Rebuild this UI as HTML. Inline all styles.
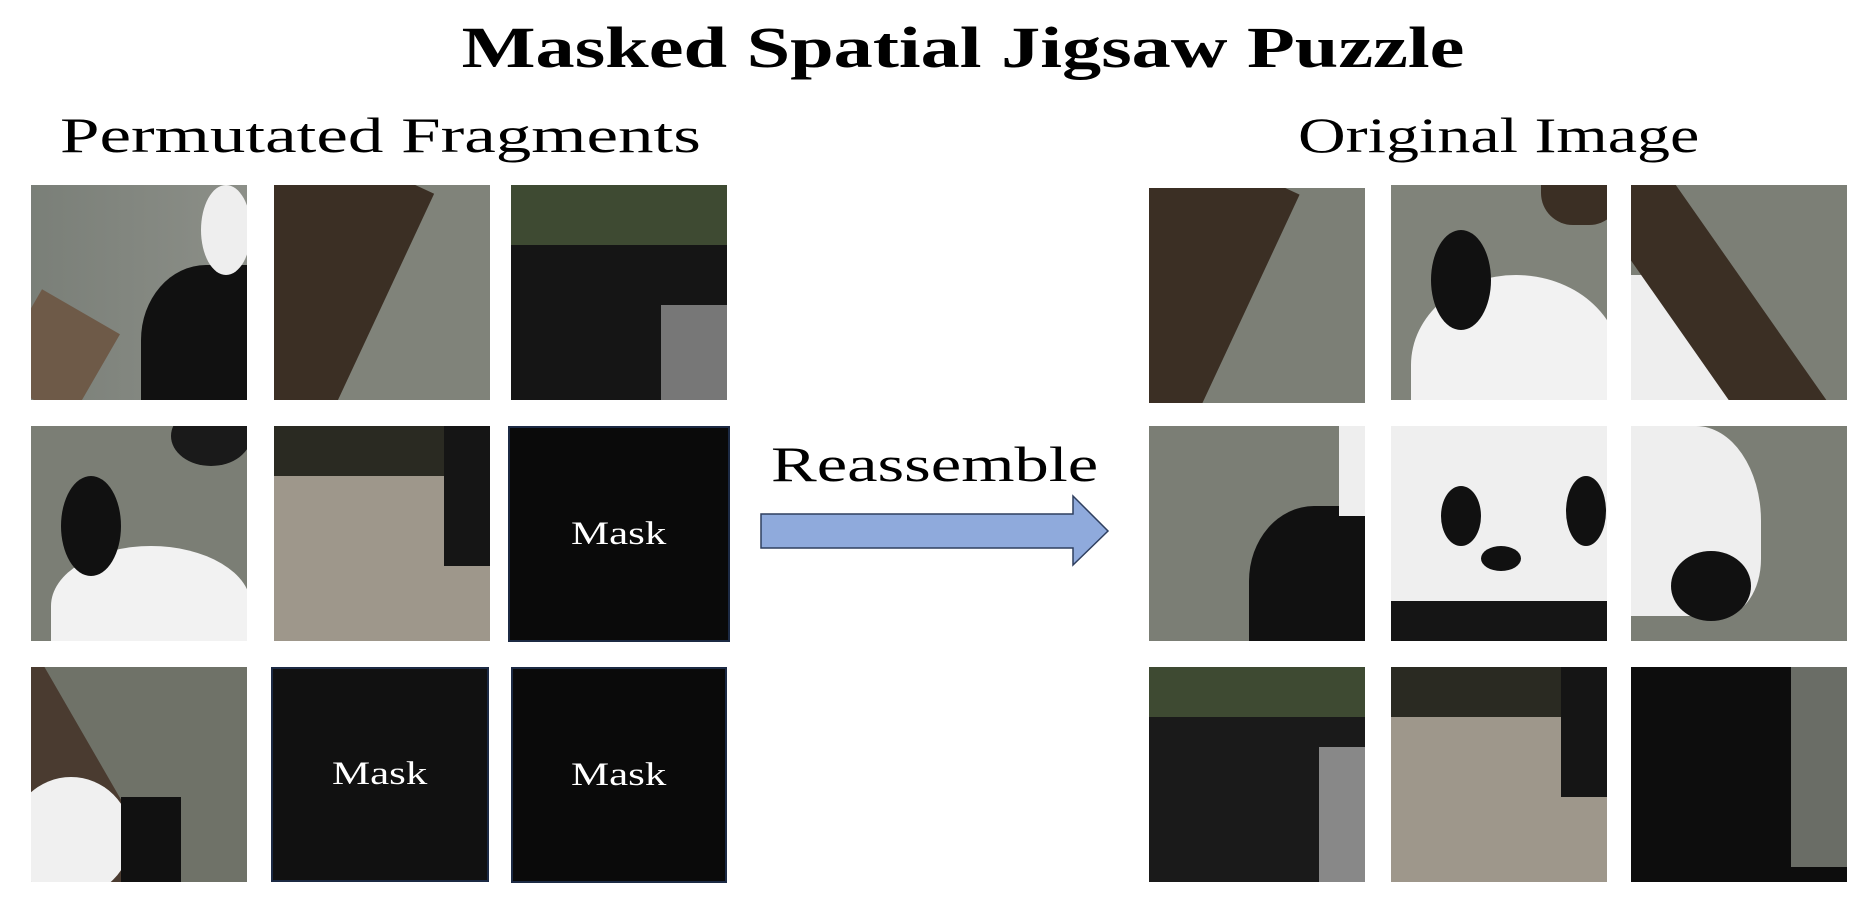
<!DOCTYPE html>
<html style="overflow:hidden"><head><meta charset="utf-8"><style>
html,body{margin:0;width:1876px;height:908px;overflow:hidden}
body{background:#fff;position:relative;font-family:"Liberation Serif",serif}
.t{position:absolute;white-space:nowrap;color:#000;transform-origin:0 0}
.tile{position:absolute;width:216px;height:215px;overflow:hidden}
.tile div{position:absolute}
.mask{background:#0a0a0a;border:2px solid #1c2a44;box-sizing:border-box;color:#fff;font-size:33px;display:flex;align-items:center;justify-content:center}
.mask span{display:inline-block;transform:scaleX(1.3)}
</style></head><body>
<div class="t" style="left:0;width:1926px;text-align:center;top:14px;font-size:58px;font-weight:bold;transform:scaleX(1.35);transform-origin:50% 0">Masked Spatial Jigsaw Puzzle</div>
<div class="t" style="left:60px;top:106px;font-size:50px;transform:scaleX(1.42)">Permutated Fragments</div>
<div class="t" style="left:1298px;top:106px;font-size:50px;transform:scaleX(1.32)">Original Image</div>
<div class="t" style="left:771px;top:435px;font-size:50px;transform:scaleX(1.37)">Reassemble</div>
<svg style="position:absolute;left:0;top:0" width="1876" height="908">
<polygon points="761,514 1073,514 1073,496 1108,531 1073,565 1073,548 761,548" fill="#8faadc" stroke="#2f3f5f" stroke-width="1.5"/>
</svg>

<!-- left grid -->
<div class="tile" style="left:31px;top:185px;background:linear-gradient(90deg,#7a7f78,#8c8f88)"><div style="left:110px;top:80px;width:130px;height:150px;background:#111;border-radius:50% 0 0 0"></div><div style="left:170px;top:0;width:50px;height:90px;background:#eee;border-radius:50%"></div><div style="left:-20px;top:120px;width:90px;height:100px;background:#6e5a48;transform:rotate(30deg)"></div></div>
<div class="tile" style="left:274px;top:185px;background:#80837a"><div style="left:-60px;top:-40px;width:160px;height:320px;background:#3b2f24;transform:rotate(25deg)"></div></div>
<div class="tile" style="left:511px;top:185px;background:#151515"><div style="left:0;top:0;width:216px;height:60px;background:#3e4a32"></div><div style="left:150px;top:120px;width:70px;height:100px;background:#777"></div></div>
<div class="tile" style="left:31px;top:426px;background:#7b7e75"><div style="left:20px;top:120px;width:200px;height:120px;background:#f2f2f2;border-radius:50% 50% 0 0"></div><div style="left:30px;top:50px;width:60px;height:100px;background:#111;border-radius:50%"></div><div style="left:140px;top:-20px;width:80px;height:60px;background:#1a1a1a;border-radius:50%"></div></div>
<div class="tile" style="left:274px;top:426px;background:#9e978b"><div style="left:0;top:0;width:216px;height:50px;background:#2a2a22"></div><div style="left:170px;top:0;width:50px;height:140px;background:#151515"></div></div>
<div class="tile mask" style="left:508px;top:426px;width:222px;height:216px"><span>Mask</span></div>
<div class="tile" style="left:31px;top:667px;background:#6f7268"><div style="left:-30px;top:-20px;width:110px;height:300px;background:#4a3b30;transform:rotate(-30deg)"></div><div style="left:-20px;top:110px;width:120px;height:120px;background:#f0f0f0;border-radius:50%"></div><div style="left:90px;top:130px;width:60px;height:90px;background:#111"></div></div>
<div class="tile mask" style="left:271px;top:667px;width:218px;height:215px;background:#111"><span>Mask</span></div>
<div class="tile mask" style="left:511px;top:667px;width:216px;height:216px"><span>Mask</span></div>

<!-- right grid -->
<div class="tile" style="left:1149px;top:188px;background:#7c7f76"><div style="left:-60px;top:-40px;width:150px;height:320px;background:#3b2f24;transform:rotate(25deg)"></div></div>
<div class="tile" style="left:1391px;top:185px;background:#80837a"><div style="left:20px;top:90px;width:210px;height:180px;background:#f2f2f2;border-radius:50% 50% 0 0"></div><div style="left:40px;top:45px;width:60px;height:100px;background:#111;border-radius:50%"></div><div style="left:150px;top:-40px;width:80px;height:80px;background:#3b2f24;border-radius:40%"></div></div>
<div class="tile" style="left:1631px;top:185px;background:#7c7f76"><div style="left:0;top:90px;width:120px;height:140px;background:#eee;border-radius:0 50% 0 0"></div><div style="left:40px;top:-40px;width:80px;height:320px;background:#3b2f24;transform:rotate(-35deg)"></div></div>
<div class="tile" style="left:1149px;top:426px;background:#7b7e75"><div style="left:100px;top:80px;width:130px;height:150px;background:#111;border-radius:50% 0 0 0"></div><div style="left:190px;top:0;width:40px;height:90px;background:#eee"></div></div>
<div class="tile" style="left:1391px;top:426px;background:#efefef"><div style="left:50px;top:60px;width:40px;height:60px;background:#111;border-radius:50%"></div><div style="left:175px;top:50px;width:40px;height:70px;background:#111;border-radius:50%"></div><div style="left:90px;top:120px;width:40px;height:25px;background:#111;border-radius:50%"></div><div style="left:0;top:175px;width:216px;height:40px;background:#151515"></div></div>
<div class="tile" style="left:1631px;top:426px;background:#7b7e75"><div style="left:0;top:0;width:130px;height:190px;background:#eee;border-radius:0 50% 30% 0"></div><div style="left:40px;top:125px;width:80px;height:70px;background:#111;border-radius:50%"></div></div>
<div class="tile" style="left:1149px;top:667px;background:#1a1a1a"><div style="left:0;top:0;width:216px;height:50px;background:#3e4a32"></div><div style="left:170px;top:80px;width:50px;height:140px;background:#888"></div></div>
<div class="tile" style="left:1391px;top:667px;background:#9e978b"><div style="left:0;top:0;width:216px;height:50px;background:#2a2a22"></div><div style="left:170px;top:0;width:50px;height:130px;background:#151515"></div></div>
<div class="tile" style="left:1631px;top:667px;background:#0d0d0d"><div style="left:160px;top:0;width:60px;height:200px;background:#6a6d66"></div></div>
</body></html>
